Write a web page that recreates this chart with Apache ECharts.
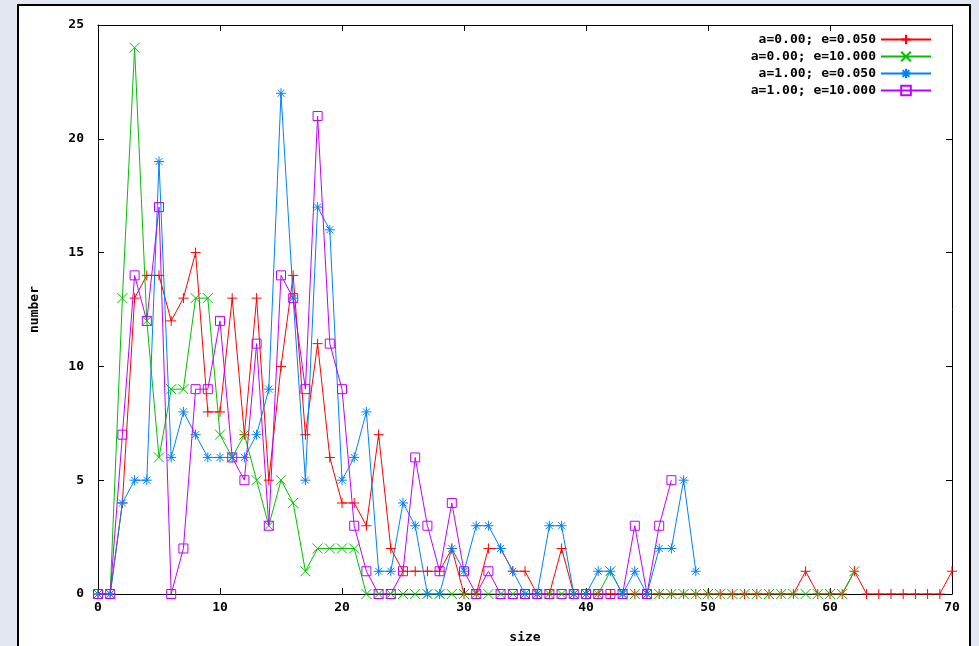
<!DOCTYPE html>
<html>
<head>
<meta charset="utf-8">
<script src="https://cdn.jsdelivr.net/npm/echarts@6/dist/echarts.min.js"></script>
<style>
  body { margin: 0; background: #e3e7ef; }
  #frame {
    position: absolute; left: 17px; top: 4px;
    width: 950px; height: 700px;
    border: 2px solid #000; background: #fff;
  }
  #chart { position: absolute; left: 0; top: 0; width: 979px; height: 646px; }
</style>
</head>
<body>
<div id="frame"></div>
<div id="chart"></div>
<script>
// values, index = size (0, 1, 2, ...)
const names = ['a=0.00; e=0.050', 'a=0.00; e=10.000', 'a=1.00; e=0.050', 'a=1.00; e=10.000'];
const colors = ['#ff0000', '#00c000', '#0080ff', '#c000ff'];

const redVals = [0, 0, 4, 13, 14, 14, 12, 13, 15, 8, 8, 13, 7, 13, 5, 10, 14, 7, 11, 6,
  4, 4, 3, 7, 2, 1, 1, 1, 1, 2, 0, 0, 2, 2, 1, 1, 0, 0, 2, 0,
  0, 0, 0, 0, 0, 0, 0, 0, 0, 0, 0, 0, 0, 0, 0, 0, 0, 0, 1, 0,
  0, 0, 1, 0, 0, 0, 0, 0, 0, 0, 1];
const greenVals = [0, 0, 13, 24, 12, 6, 9, 9, 13, 13, 7, 6, 7, 5, 3, 5, 4, 1, 2, 2,
  2, 2, 0, 0, 0, 0, 0, 0, 0, 0, 0, 0, 0, 0, 0, 0, 0, 0, 0, 0,
  0, 0, 1, 0, 0, 0, 0, 0, 0, 0, 0, 0, 0, 0, 0, 0, 0, 0, 0, 0,
  0, 0, 1];
const blueVals = [0, 0, 4, 5, 5, 19, 6, 8, 7, 6, 6, 6, 6, 7, 9, 22, 13, 5, 17, 16,
  5, 6, 8, 1, 1, 4, 3, 0, 0, 2, 1, 3, 3, 2, 1, 0, 0, 3, 3, 0,
  0, 1, 1, 0, 1, 0, 2, 2, 5, 1];
const pinkVals = [0, 0, 7, 14, 12, 17, 0, 2, 9, 9, 12, 6, 5, 11, 3, 14, 13, 9, 21, 11,
  9, 3, 1, 0, 0, 1, 6, 3, 1, 4, 1, 0, 1, 0, 0, 0, 0, 0, 0, 0,
  0, 0, 0, 0, 3, 0, 3, 5];

const xTicks = [0, 10, 20, 30, 40, 50, 60, 70];
const yTicks = [0, 5, 10, 15, 20, 25];

const symbols = [
  'path://M0,5L10,5M5,0L5,10',
  'path://M0,0L10,10M10,0L0,10',
  'path://M0,5L10,5M5,0L5,10M1.5,1.5L8.5,8.5M8.5,1.5L1.5,8.5',
  'path://M0,0L10,0L10,10L0,10Z'
];

const font = '"DejaVu Sans Mono", monospace';
const myChart = echarts.init(document.getElementById('chart'));

function toPairs(vals) {
  return vals.map(function (v, i) { return [i, v]; });
}

const allVals = [redVals, greenVals, blueVals, pinkVals];
const series = allVals.map(function (vals, k) {
  return {
    name: names[k],
    type: 'line',
    data: toPairs(vals),
    symbol: symbols[k],
    symbolSize: k === 3 ? 9 : 10,
    showAllSymbol: true,
    lineStyle: { color: colors[k], width: 1 },
    itemStyle: { color: k === 3 ? 'rgba(0,0,0,0)' : colors[k], borderColor: colors[k], borderWidth: 1 },
    emphasis: { disabled: true },
    animation: false
  };
});

// ticks drawn toward the plot (gnuplot style)
function ticks() {
  return { show: true, inside: true, length: 6, lineStyle: { color: '#000', width: 1 } };
}
function blackLine() {
  return { show: true, onZero: false, lineStyle: { color: '#000', width: 1 } };
}
const labelFont = { fontFamily: font, fontWeight: 'bold', fontSize: 13, color: '#000' };

let option = {
  backgroundColor: 'transparent',
  grid: { left: 98, right: 27, top: 25, bottom: 52, outerBoundsMode: 'none', containLabel: false },
  legend: {
    orient: 'vertical',
    right: 42,
    top: 28,
    align: 'right',
    itemWidth: 50,
    itemHeight: 12,
    itemGap: 4,
    data: names,
    textStyle: labelFont
  },
  xAxis: [{
    type: 'value',
    min: xTicks[0], max: xTicks[xTicks.length - 1], interval: 10,
    name: 'size',
    nameLocation: 'middle',
    nameGap: 37,
    nameTextStyle: labelFont,
    axisLine: blackLine(),
    axisTick: ticks(),
    splitLine: { show: false },
    axisLabel: Object.assign({ margin: 7 }, labelFont)
  }, {
    type: 'value', position: 'top',
    min: xTicks[0], max: xTicks[xTicks.length - 1], interval: 10,
    axisLine: blackLine(), axisTick: ticks(),
    axisLabel: { show: false }, splitLine: { show: false }
  }],
  yAxis: [{
    type: 'value',
    min: yTicks[0], max: yTicks[yTicks.length - 1], interval: 5,
    name: 'number',
    nameLocation: 'middle',
    nameGap: 57,
    nameTextStyle: labelFont,
    axisLine: blackLine(),
    axisTick: ticks(),
    splitLine: { show: false },
    axisLabel: Object.assign({ margin: 14 }, labelFont)
  }, {
    type: 'value', position: 'right',
    min: yTicks[0], max: yTicks[yTicks.length - 1], interval: 5,
    axisLine: blackLine(), axisTick: ticks(),
    axisLabel: { show: false }, splitLine: { show: false }
  }],
  series: series
};

myChart.setOption(option);
</script>
</body>
</html>
